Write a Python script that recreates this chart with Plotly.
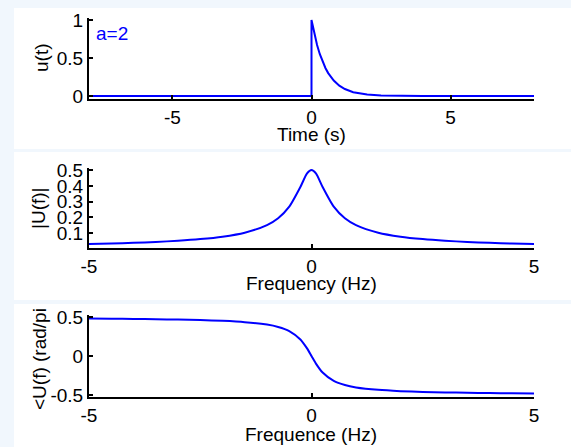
import plotly.graph_objects as go

# ---- data ----
t_vals = [-8, -4, 0, 0, 0.1, 0.2, 0.3, 0.4, 0.5, 0.6, 0.8, 1.0, 1.2, 1.5, 2.0, 2.5, 3.0, 4.0, 6.0, 8.0]
u_vals = [0, 0, 0, 1, 0.819, 0.670, 0.549, 0.449, 0.368, 0.301, 0.202, 0.135, 0.091, 0.050, 0.018, 0.0067, 0.0025, 0, 0, 0]

f_vals = [-5, -4.5, -4, -3.5, -3, -2.5, -2, -1.5, -1, -0.75, -0.5, -0.25, -0.1, 0,
          0.1, 0.25, 0.5, 0.75, 1, 1.5, 2, 2.5, 3, 3.5, 4, 4.5, 5]
mag_vals = [0.0318, 0.0353, 0.0397, 0.0453, 0.0528, 0.0632, 0.0786, 0.1038, 0.1517, 0.195, 0.2685, 0.393, 0.479, 0.5,
            0.479, 0.393, 0.2685, 0.195, 0.1517, 0.1038, 0.0786, 0.0632, 0.0528, 0.0453, 0.0397, 0.0353, 0.0318]
phase_vals = [0.4798, 0.4775, 0.4747, 0.4711, 0.4663, 0.4597, 0.4498, 0.4335, 0.402, 0.372, 0.3196, 0.212, 0.097, 0,
              -0.097, -0.212, -0.3196, -0.372, -0.402, -0.4335, -0.4498, -0.4597, -0.4663, -0.4711, -0.4747, -0.4775, -0.4798]

t_ticks = [-5, 0, 5]
u_ticks = [0, 0.5, 1]
u_ticklabels = ["0", "0.5", "1"]
f_ticks = [-5, 0, 5]
mag_ticks = [0.1, 0.2, 0.3, 0.4, 0.5]
mag_ticklabels = ["0.1", "0.2", "0.3", "0.4", "0.5"]
ph_ticks = [-0.5, 0, 0.5]
ph_ticklabels = ["-0.5", "0", "0.5"]

W, H = 571, 447
FONT = "Liberation Sans, Arial, sans-serif"
FS = 19
BLUE = "#0000ff"
BG = "#f1f7fd"


def px(x):
    return x / W


def py(y):
    return 1 - y / H


fig = go.Figure()
fig.add_trace(go.Scatter(x=t_vals, y=u_vals, mode="lines", line=dict(color=BLUE, width=2),
                         xaxis="x", yaxis="y", showlegend=False))
fig.add_trace(go.Scatter(x=f_vals, y=mag_vals, mode="lines", line=dict(color=BLUE, width=2, shape="spline", smoothing=0.6),
                         xaxis="x2", yaxis="y2", showlegend=False))
fig.add_trace(go.Scatter(x=f_vals, y=phase_vals, mode="lines", line=dict(color=BLUE, width=2, shape="spline", smoothing=0.6),
                         xaxis="x3", yaxis="y3", showlegend=False))

xdom = [px(89), px(534)]
common = dict(showline=True, linecolor="black", linewidth=2, mirror=False, showgrid=False,
              zeroline=False, ticks="inside", ticklen=4, tickwidth=1.5, tickcolor="black",
              automargin=False,
              tickfont=dict(family=FONT, size=FS, color="black"), fixedrange=True)

fig.update_layout(
    template="none",
    width=W, height=H,
    margin=dict(l=0, r=0, t=0, b=0, pad=0),
    paper_bgcolor=BG, plot_bgcolor="rgba(0,0,0,0)",
    font=dict(family=FONT, size=FS, color="black"),
    xaxis=dict(domain=xdom, range=[-8, 8], tickvals=t_ticks, ticktext=["-5", "0", "5"], anchor="y", **common),
    yaxis=dict(domain=[py(99), py(18)], range=[-0.04, 1.026], tickvals=u_ticks, ticktext=u_ticklabels, anchor="x", **common),
    xaxis2=dict(domain=xdom, range=[-5, 5], tickvals=f_ticks, ticktext=["-5", "0", "5"], anchor="y2", **common),
    yaxis2=dict(domain=[py(248), py(168)], range=[0.007, 0.513], tickvals=mag_ticks, ticktext=mag_ticklabels, anchor="x2", **common),
    xaxis3=dict(domain=xdom, range=[-5, 5], tickvals=f_ticks, ticktext=["-5", "0", "5"], anchor="y3", **common),
    yaxis3=dict(domain=[py(397), py(315)], range=[-0.525, 0.525], tickvals=ph_ticks, ticktext=ph_ticklabels, anchor="x3", **common),
)

# white panel backgrounds
for y0, y1 in [(8, 149), (152, 300), (304, 447)]:
    fig.add_shape(type="rect", xref="paper", yref="paper", x0=px(14), x1=1, y0=py(y1), y1=py(y0),
                  fillcolor="white", line=dict(width=0), layer="below")

ann = [
    dict(text="Time (s)", x=px(311), y=py(134)),
    dict(text="Frequency (Hz)", x=px(311), y=py(283)),
    dict(text="Frequence (Hz)", x=px(311), y=py(434)),
]
for a in ann:
    fig.add_annotation(text=a["text"], x=a["x"], y=a["y"], xref="paper", yref="paper",
                       showarrow=False, xanchor="center", yanchor="middle",
                       font=dict(family=FONT, size=FS, color="black"))

for text, xc, yc in [("u(t)", 42, 58), ("|U(f)|", 39, 208), ("&lt;U(f) (rad/pi", 39, 359)]:
    fig.add_annotation(text=text, x=px(xc), y=py(yc), xref="paper", yref="paper", textangle=-90,
                       showarrow=False, xanchor="center", yanchor="middle",
                       font=dict(family=FONT, size=FS, color="black"))

fig.add_annotation(text="a=2", x=px(94), y=py(33), xref="paper", yref="paper", showarrow=False,
                   xanchor="left", yanchor="middle", font=dict(family=FONT, size=FS, color=BLUE))

fig.write_html("out.html", config={"displayModeBar": False},
               post_script="document.body.style.margin='0';document.body.style.overflow='hidden';")
